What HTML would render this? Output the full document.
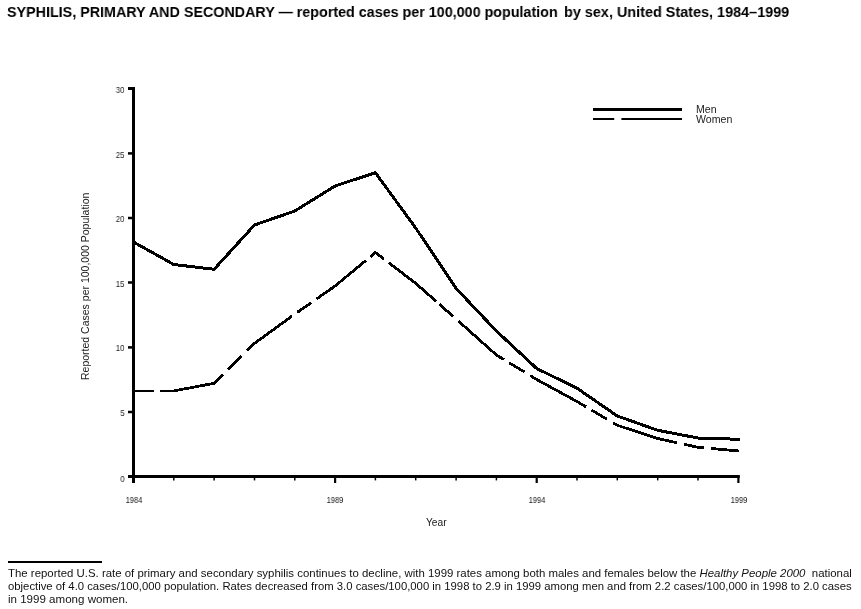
<!DOCTYPE html>
<html><head><meta charset="utf-8">
<style>
html,body{margin:0;padding:0;background:#fff;}
body{width:861px;height:609px;position:relative;overflow:hidden;font-family:"Liberation Sans",sans-serif;color:#000;}
.t{position:absolute;white-space:nowrap;line-height:1;will-change:transform;}
.title{top:4.3px;font-size:15.4px;font-weight:bold;transform-origin:0 0;color:#000;}
.tick{font-size:8.5px;color:#1a1a1a;}
.yt{right:736.5px;text-align:right;transform:scaleX(0.92);transform-origin:100% 0;}
.xt{width:40px;text-align:center;transform:scaleX(0.88);transform-origin:50% 0;}
#ylab{font-size:10.5px;color:#222;}
#xlab{font-size:10.2px;color:#1a1a1a;left:425.6px;top:517.8px;}
.leg{font-size:10px;color:#222;transform:scaleX(1.06);transform-origin:0 0;}
#rule{position:absolute;left:8px;top:561px;width:94px;height:2px;background:#000;}
.fl{position:absolute;will-change:transform;left:7.9px;font-size:11px;line-height:12px;color:#111;white-space:nowrap;transform-origin:0 0;}
svg{position:absolute;left:0;top:0;}
</style></head>
<body>
<div class="t title" style="left:6.5px;transform:scaleX(0.930);">SYPHILIS, PRIMARY AND SECONDARY — reported cases per 100,000 population</div>
<div class="t title" style="left:563.5px;transform:scaleX(0.937);">by sex, United States, 1984–1999</div>

<svg width="861" height="609" viewBox="0 0 861 609">
  <g stroke="#000" fill="none">
    <!-- y axis -->
    <line x1="133.5" y1="87" x2="133.5" y2="483" stroke-width="3"/>
    <!-- x axis -->
    <line x1="128" y1="476.5" x2="739.8" y2="476.5" stroke-width="3"/>
    <!-- y ticks -->
    <line x1="128" y1="88.5" x2="135" y2="88.5" stroke-width="3"/>
    <line x1="128" y1="153.4" x2="135" y2="153.4" stroke-width="2.5"/>
    <line x1="128" y1="218" x2="135" y2="218" stroke-width="2.5"/>
    <line x1="128" y1="282.5" x2="135" y2="282.5" stroke-width="2.5"/>
    <line x1="128" y1="347.4" x2="135" y2="347.4" stroke-width="2.5"/>
    <line x1="128" y1="412" x2="135" y2="412" stroke-width="2.5"/>
  </g>
  <g stroke="#000" stroke-width="1.5">
    <line x1="173.8" y1="476" x2="173.8" y2="480.4"/>
    <line x1="214.1" y1="476" x2="214.1" y2="480.4"/>
    <line x1="254.5" y1="476" x2="254.5" y2="480.4"/>
    <line x1="294.8" y1="476" x2="294.8" y2="480.4"/>
    <line x1="375.4" y1="476" x2="375.4" y2="480.4"/>
    <line x1="415.7" y1="476" x2="415.7" y2="480.4"/>
    <line x1="456.1" y1="476" x2="456.1" y2="480.4"/>
    <line x1="496.4" y1="476" x2="496.4" y2="480.4"/>
    <line x1="577.0" y1="476" x2="577.0" y2="480.4"/>
    <line x1="617.3" y1="476" x2="617.3" y2="480.4"/>
    <line x1="657.7" y1="476" x2="657.7" y2="480.4"/>
    <line x1="698.0" y1="476" x2="698.0" y2="480.4"/>
  </g>
  <g stroke="#000" stroke-width="2.2">
    <line x1="335.1" y1="476" x2="335.1" y2="483"/>
    <line x1="536.7" y1="476" x2="536.7" y2="483"/>
    <line x1="738.4" y1="476" x2="738.4" y2="483"/>
  </g>
  <!-- men -->
  <polyline shape-rendering="crispEdges" fill="none" stroke="#000" stroke-width="3" stroke-linejoin="miter"
    points="133.5,242 173.8,264.5 214.1,269.3 254.5,225 294.8,211 335.1,186 375.4,172.7 415.7,228 456.1,288.4 496.4,331 536.7,368.5 577.0,388.2 617.3,416 657.7,430.3 698.0,438 739.6,439.3"/>
  <!-- women -->
  <polyline shape-rendering="crispEdges" fill="none" stroke="#000" stroke-width="2.8" stroke-linejoin="miter"
    stroke-dasharray="20.2 6.3 67.2 7.0 19.0 7.8 57.0 6.4 17.0 6.6 62.6 6.0 17.2 6.0 61.3 4.1 18.6 6.7 60.0 5.9 18.2 6.7 63.8 6.2 18.2 7.1 67.2 7.4 20.2 7.0 40 20"
    points="133.5,390.9 173.8,390.9 214.1,383.3 254.5,343.4 294.8,314.1 335.1,286 375.4,252.5 415.7,283.3 456.1,319 496.4,355 536.7,379.5 577.0,401.5 617.3,425.3 657.7,438.5 698.0,447.3 739.3,451"/>
  <!-- legend -->
  <line x1="593" y1="109.5" x2="682" y2="109.5" stroke="#000" stroke-width="3"/>
  <line x1="593" y1="119" x2="614.2" y2="119" stroke="#000" stroke-width="2"/>
  <line x1="621.4" y1="119" x2="682" y2="119" stroke="#000" stroke-width="2"/>
</svg>

<div class="t tick yt" style="top:85.9px;">30</div>
<div class="t tick yt" style="top:151.0px;">25</div>
<div class="t tick yt" style="top:215.0px;">20</div>
<div class="t tick yt" style="top:280.0px;">15</div>
<div class="t tick yt" style="top:343.9px;">10</div>
<div class="t tick yt" style="top:408.9px;">5</div>
<div class="t tick yt" style="top:474.9px;">0</div>
<div class="t tick xt" style="left:113.5px;top:496.2px;">1984</div>
<div class="t tick xt" style="left:315.1px;top:496.2px;">1989</div>
<div class="t tick xt" style="left:516.9px;top:496.2px;">1994</div>
<div class="t tick xt" style="left:718.5px;top:496.2px;">1999</div>

<div class="t" id="xlab">Year</div>
<svg width="861" height="609" style="position:absolute;left:0;top:0"><text transform="translate(89,380) rotate(-90)" font-family="Liberation Sans" font-size="10.5" fill="#222">Reported Cases per 100,000 Population</text></svg>

<div class="t leg" style="left:695.5px;top:105px;">Men</div>
<div class="t leg" style="left:695.5px;top:114.6px;">Women</div>

<div id="rule"></div>
<div class="fl" style="top:567px;transform:scaleX(1.0375);">The reported U.S. rate of primary and secondary syphilis continues to decline, with 1999 rates among both males and females below the <i>Healthy People 2000</i>&nbsp; national</div>
<div class="fl" style="top:580px;transform:scaleX(1.028);">objective of 4.0 cases/100,000 population. Rates decreased from 3.0 cases/100,000 in 1998 to 2.9 in 1999 among men and from 2.2 cases/100,000 in 1998 to 2.0 cases</div>
<div class="fl" style="top:593px;transform:scaleX(1.05);">in 1999 among women.</div>
</body></html>
